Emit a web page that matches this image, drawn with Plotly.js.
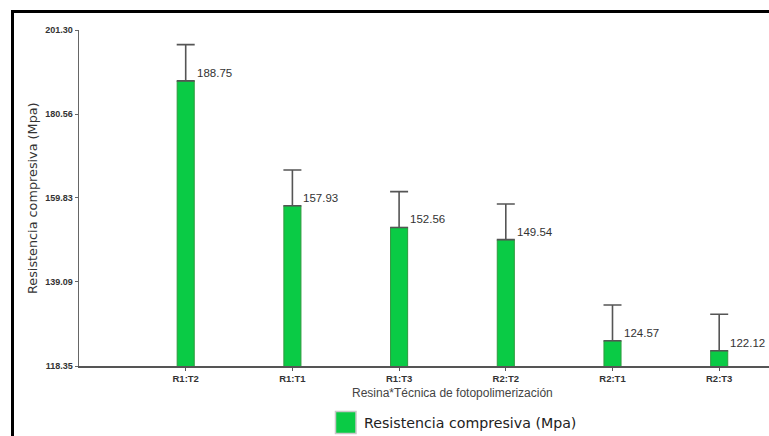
<!DOCTYPE html>
<html>
<head>
<meta charset="utf-8">
<script src="https://cdn.plot.ly/plotly-3.0.1.min.js"></script>
<style>
  html, body { margin: 0; padding: 0; background: #fff; overflow: hidden; }
  #wrap { position: relative; width: 769px; height: 436px; overflow: hidden; }
  #chart { position: absolute; left: 0; top: 0; width: 769px; height: 436px; }
  /* outer frame: only its top and left edges fall inside the page */
  #frame { position: absolute; left: 11px; top: 9.5px; width: 900px; height: 600px;
           border-top: 3px solid #000; border-left: 3px solid #000; pointer-events: none; }
</style>
</head>
<body>
<div id="wrap">
  <div id="chart"></div>
  <div id="frame"></div>
</div>
<script>
// Compressive strength by resin * light-curing technique
const categories = ['R1:T2', 'R1:T1', 'R1:T3', 'R2:T2', 'R2:T1', 'R2:T3'];
const means = [188.75, 157.93, 152.56, 149.54, 124.57, 122.12];
const errUpper = [8.93, 8.81, 8.83, 8.81, 8.84, 8.99];
const yTicks = [118.35, 139.09, 159.83, 180.56, 201.30];
const seriesName = 'Resistencia compresiva (Mpa)';
const xTitle = 'Resina*Técnica de fotopolimerización';

const W = 769, H = 436;
const M = { l: 79, r: 0, t: 30, b: 70 };
const plotW = W - M.l - M.r, plotH = H - M.t - M.b;
// pixel -> paper helpers for decorations around the plot
const px = x => (x - M.l) / plotW;
const py = y => (H - M.b - y) / plotH;

const green = '#0acb45';

const bars = {
  type: 'bar',
  x: categories,
  y: means,
  width: 0.16,
  name: seriesName,
  showlegend: false,
  marker: { color: green, line: { color: '#2e9a3e', width: 1 } },
  error_y: {
    type: 'data',
    symmetric: false,
    array: errUpper,
    arrayminus: categories.map(() => 0),
    color: '#555',
    thickness: 1.6,
    width: 9
  },
  hoverinfo: 'x+y'
};

const valueLabels = categories.map((c, i) => ({
  x: c, y: means[i], xref: 'x', yref: 'y',
  text: means[i].toFixed(2),
  showarrow: false, xanchor: 'left', yanchor: 'middle',
  xshift: 9, yshift: 8,
  font: { family: 'Liberation Sans, Arial, sans-serif', size: 11.5, color: '#333' }
}));

const layout = {
  width: W, height: H,
  margin: M,
  paper_bgcolor: '#fff',
  plot_bgcolor: '#fff',
  bargap: 0,
  xaxis: {
    type: 'category',
    range: [-1, (W - M.l) / 106.7 - 1],
    showgrid: false, zeroline: false,
    showline: true, linecolor: '#555', linewidth: 2,
    ticks: 'outside', ticklen: 3, tickcolor: '#555', tickwidth: 1,
    tickfont: { family: 'Liberation Sans, Arial, sans-serif', size: 9.5, weight: 'bold', color: '#333' },
    fixedrange: true
  },
  yaxis: {
    range: [yTicks[0], yTicks[yTicks.length - 1]],
    tickvals: yTicks,
    ticktext: yTicks.map(v => v.toFixed(2)),
    showgrid: false, zeroline: false,
    showline: true, linecolor: '#666', linewidth: 1.5,
    ticks: 'outside', ticklen: 3, tickcolor: '#666', tickwidth: 1,
    tickfont: { family: 'Liberation Sans, Arial, sans-serif', size: 9, weight: 'bold', color: '#333' },
    fixedrange: true
  },
  shapes: [
    // legend swatch
    { type: 'rect', xref: 'paper', yref: 'paper',
      x0: px(335.5), x1: px(356), y0: py(433.5), y1: py(411.5),
      line: { color: '#c8c8c8', width: 1.5 }, fillcolor: green }
  ],
  annotations: valueLabels.concat([
    { xref: 'x', yref: 'paper', x: 2.5, y: py(393), text: xTitle,
      showarrow: false, xanchor: 'center', yanchor: 'middle',
      font: { family: 'Liberation Sans, Arial, sans-serif', size: 12, color: '#444' } },
    { xref: 'paper', yref: 'paper', x: px(32), y: 0.5, text: seriesName,
      textangle: -90, showarrow: false, xanchor: 'center', yanchor: 'middle',
      font: { family: 'DejaVu Sans, sans-serif', size: 12.8, color: '#333' } },
    { xref: 'paper', yref: 'paper', x: px(362), y: py(423), text: seriesName,
      showarrow: false, xanchor: 'left', yanchor: 'middle',
      font: { family: 'DejaVu Sans, sans-serif', size: 14.2, color: '#222' } }
  ])
};

Plotly.newPlot('chart', [bars], layout, { displayModeBar: false, staticPlot: true });
</script>
</body>
</html>
